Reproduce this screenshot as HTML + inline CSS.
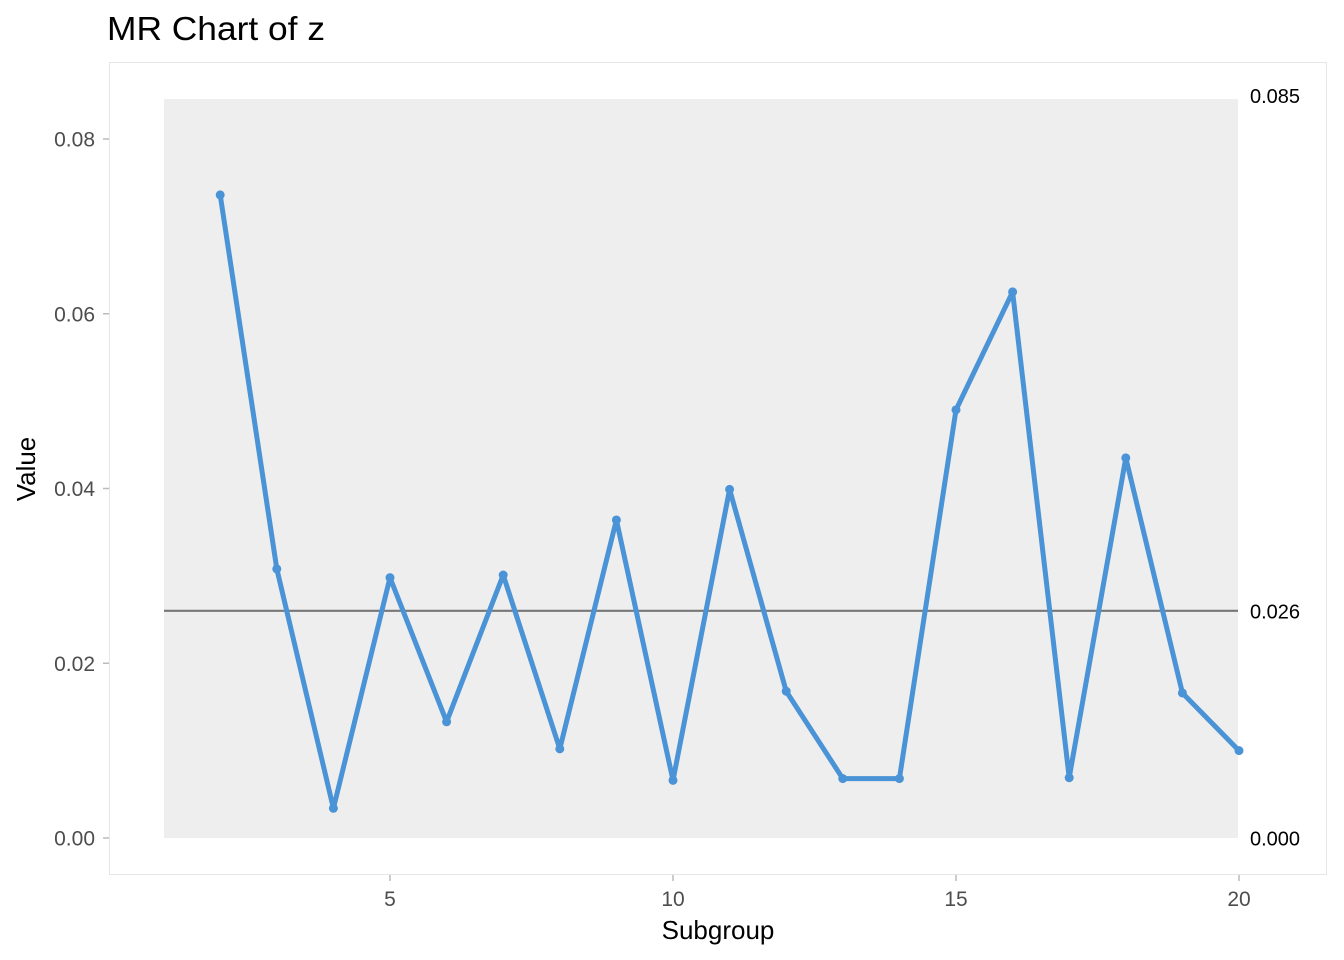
<!DOCTYPE html>
<html><head><meta charset="utf-8">
<style>
html,body{margin:0;padding:0;background:#fff;}
svg{display:block;font-family:"Liberation Sans",Arial,sans-serif;}
</style></head>
<body>
<svg id="chart" width="1344" height="960" viewBox="0 0 1344 960">
<text x="107" y="40" font-size="33" fill="#000" textLength="218" lengthAdjust="spacingAndGlyphs">MR Chart of z</text>
<rect x="109.5" y="62.5" width="1217" height="812" fill="#fff" stroke="#e6e6e6" stroke-width="1"/>
<rect x="164" y="99" width="1074" height="739" fill="#eeeeee"/>
<g id="yaxis"></g>
<g id="xaxis"></g>
<g id="marks"></g>
<text x="35" y="469" font-size="26" fill="#000" text-anchor="middle" transform="rotate(-90 35 469)">Value</text>
<text x="718" y="939" font-size="26" fill="#000" text-anchor="middle">Subgroup</text>
</svg>
<script>
const subgroups=[2,3,4,5,6,7,8,9,10,11,12,13,14,15,16,17,18,19,20];
const mrValues=[0.0736,0.0308,0.0034,0.0298,0.0133,0.0301,0.0102,0.0364,0.0066,0.0399,0.0168,0.0068,0.0068,0.0490,0.0625,0.0069,0.0435,0.0166,0.0100];
const centerLine=0.026;
const upperLimit=0.085;
const lowerLimit=0.000;
const yTicks=[0,0.02,0.04,0.06,0.08];
const yTickLabels=["0.00","0.02","0.04","0.06","0.08"];
const xTicks=[5,10,15,20];
const xTickLabels=["5","10","15","20"];
const limitLabels=["0.085","0.026","0.000"];

const NS="http://www.w3.org/2000/svg";
function X(v){return 390+(v-5)*56.6;}
function Y(v){return 838-v*8737.5;}
function mk(tag,attrs,parent,text){const e=document.createElementNS(NS,tag);for(const k in attrs)e.setAttribute(k,attrs[k]);if(text!==undefined)e.textContent=text;parent.appendChild(e);return e;}
const ya=document.getElementById('yaxis'),xa=document.getElementById('xaxis'),mg=document.getElementById('marks');
yTicks.forEach((t,i)=>{
  const l=mk('line',{x1:103,x2:109,y1:Y(t),y2:Y(t),stroke:'#bbb','stroke-width':1.5},ya);
  
  
  const tx=mk('text',{x:95,y:Y(t)+7.5,'font-size':21,fill:'#4d4d4d','text-anchor':'end'},ya,yTickLabels[i]);
  
  
});
xTicks.forEach((t,i)=>{
  const l=mk('line',{x1:X(t),x2:X(t),y1:875,y2:881,stroke:'#bbb','stroke-width':1.5},xa);
  
  
  const tx=mk('text',{x:X(t),y:906,'font-size':21,fill:'#4d4d4d','text-anchor':'middle'},xa,xTickLabels[i]);
  
  
});
const cl=mk('line',{x1:164,x2:1238,y1:Y(centerLine),y2:Y(centerLine),stroke:'#777','stroke-width':2.2},mg);


[upperLimit,centerLine,lowerLimit].forEach((v,i)=>{
  const tx=mk('text',{x:1250,y:Y(v)+7.5,'font-size':20,fill:'#000'},mg,limitLabels[i]);
  
  
});
const pts=subgroups.map((s,i)=>X(s)+','+Y(mrValues[i])).join(' ');
const pl=mk('polyline',{points:pts,fill:'none',stroke:'#4a93d6','stroke-width':5,'stroke-linejoin':'round'},mg);


subgroups.forEach((s,i)=>{
  const c=mk('circle',{cx:X(s),cy:Y(mrValues[i]),r:4.5,fill:'#4a93d6'},mg);
  
  
});
</script>
</body></html>
